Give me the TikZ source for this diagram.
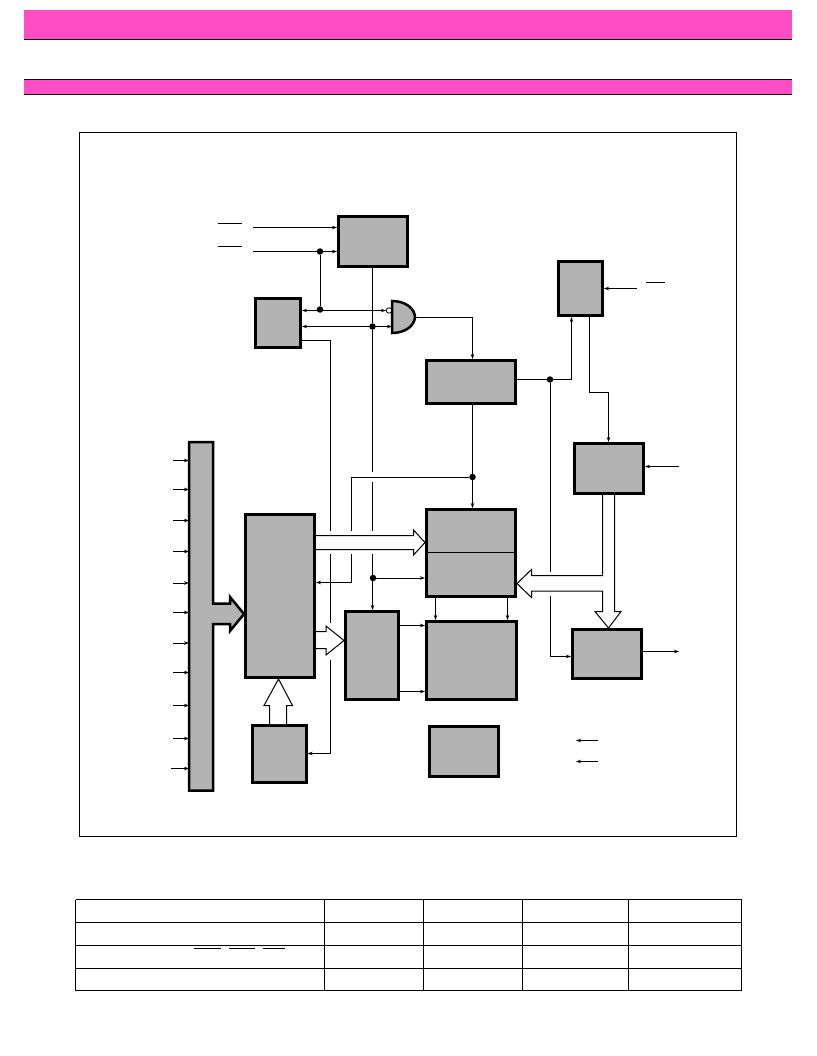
\documentclass[tikz,border=0pt]{standalone}
\usetikzlibrary{arrows.meta}
\definecolor{banner}{HTML}{FF4DC4}
\definecolor{blockgray}{HTML}{B3B3B3}
\tikzset{
    block/.style={rectangle, draw, fill=blockgray, line width=3pt, inner sep=0pt},
    jdot/.style={circle, fill=black, inner sep=0pt, minimum size=6.5pt},
    wire/.style={line width=1pt, line join=miter},
    sig/.style={wire, -{Stealth[length=5pt, width=3.5pt]}},
    bisig/.style={wire, {Stealth[length=5pt, width=3.5pt]}-{Stealth[length=5pt, width=3.5pt]}},
    hollow/.style={line width=1pt, fill=white, miter limit=10},
    overbar/.style={line width=1pt}
}
\begin{document}
\begin{tikzpicture}[x=1pt, y=-1pt]
    \useasboundingbox (0, 0) rectangle (816, 1056);

    \fill[banner] (24, 10) rectangle (792, 39);
    \fill[banner] (24, 79) rectangle (792, 94);
    \draw[line width=1.2pt] (24, 39.5) -- (792, 39.5);
    \draw[line width=1.2pt] (24, 79.5) -- (792, 79.5);
    \draw[line width=1.2pt] (24, 94.5) -- (792, 94.5);
    \draw[line width=0.8pt] (79.5, 132.5) rectangle (736.5, 836.5);

    \node[block, minimum width=69pt, minimum height=50pt] (rasclk) at (373, 241.5) {};
    \node[block, minimum width=45pt, minimum height=49pt] (refctl) at (278, 323) {};
    \node[block, minimum width=89pt, minimum height=43pt] (casclk) at (471, 382) {};
    \node[block, minimum width=69pt, minimum height=163pt] (addrbuf) at (280, 596) {};
    \node[block, minimum width=53pt, minimum height=88pt] (rowdec) at (372, 655.5) {};
    \node[block, minimum width=89pt, minimum height=87pt] (coldec) at (471, 553) {};
    \node[block, minimum width=90pt, minimum height=78pt] (cells) at (471.5, 660.5) {};
    \node[block, minimum width=54pt, minimum height=57pt] (refcnt) at (279, 754) {};
    \node[block, minimum width=69pt, minimum height=50pt] (bias) at (464, 751.5) {};
    \node[block, minimum width=44pt, minimum height=54pt] (wclk) at (580.5, 288.5) {};
    \node[block, minimum width=69pt, minimum height=50pt] (inbuf) at (609, 468.5) {};
    \node[block, minimum width=69pt, minimum height=49pt] (outbuf) at (607, 654) {};

    \coordinate (busnw) at (189, 442);
    \coordinate (busne) at (213, 442);
    \coordinate (busse) at (213, 790.5);
    \coordinate (bussw) at (189, 790.5);
    \draw[fill=blockgray, line width=2.5pt, miter limit=10] (busnw) -- (busne) -- (213, 603.5) -- (230, 603.5) -- (230, 597)
        -- (addrbuf.west |- 0, 614) -- (230, 631) -- (230, 624) -- (213, 624) -- (busse) -- (bussw) -- cycle;

    \foreach \n/\y in {a/460.5, b/489.5, c/520.5, d/551.5, e/583, f/612.5, g/643, h/672.5, i/705.5, j/738.5} {
        \coordinate (in\n) at (173, \y);
        \draw[sig] (in\n) -- (in\n -| busnw);
    }
    \coordinate (ink) at (171, 768.5);
    \draw[sig] (ink) -- (ink -| busnw);

    \draw[line width=0.8pt] (coldec.west |- 0, 552.5) -- (coldec.east |- 0, 552.5);

    \coordinate (gatea) at (392, 310.5);
    \coordinate (gateb) at (392, 326.5);
    \coordinate (gatey) at (415, 317);
    \draw[fill=blockgray, line width=2.5pt] (392, 301) .. controls (405, 301) and (414.5, 308) .. (gatey)
        .. controls (414.5, 326) and (405, 333) .. (392, 333) -- cycle;
    \node[circle, draw, fill=white, line width=0.8pt, inner sep=0pt, minimum size=5.5pt] (gatebub) at (389, 310.5) {};

    \node[jdot] (dotclk) at (320, 251.5) {};
    \node[jdot] (dotoe) at (320, 309.5) {};
    \node[jdot] (dotwe) at (372.5, 326.5) {};
    \node[jdot] (dotcas) at (472.5, 477) {};
    \node[jdot] (dotrow) at (373, 578) {};
    \node[jdot] (dotout) at (550, 379.5) {};

    \coordinate (inras) at (253, 227.5);
    \coordinate (incas) at (253, 251.5);
    \draw[sig] (inras) -- (inras -| rasclk.west);
    \draw[wire] (incas) -- (dotclk);
    \draw[sig] (dotclk) -- (dotclk -| rasclk.west);
    \draw[wire] (dotclk) -- (dotoe);
    \draw[bisig] (refctl.east |- 0, 310.5) -- (gatebub.west);
    \draw[bisig] (refctl.east |- 0, 326.5) -- (gateb);

    \draw[wire] (372.5, 0 |- rasclk.south) -- (dotwe);
    \draw[wire] (dotwe) -- (372.5, 472);
    \draw[wire] (372.5, 482) -- (372.5, 531);
    \draw[sig] (372.5, 554) -- (372.5, 0 |- rowdec.north);
    \draw[sig] (dotrow) -- (dotrow -| coldec.west);

    \draw[sig] (gatey) -| (472.5, 0 |- casclk.north);
    \draw[wire] (472.5, 0 |- casclk.south) -- (dotcas);
    \draw[sig] (dotcas) -- (472.5, 0 |- coldec.north);
    \draw[wire] (dotcas) -| (351.5, 531);
    \draw[sig] (351.5, 554) |- (addrbuf.east |- 0, 582.5);

    \draw[wire] (refctl.east |- 0, 340.5) -| (330.5, 531);
    \draw[wire] (330.5, 554) -- (330.5, 622.5);
    \draw[sig] (330.5, 660) |- (refcnt.east |- 0, 753.5);

    \draw[wire] (casclk.east |- dotout) -- (dotout);
    \draw[sig] (dotout) -| (571.5, 0 |- wclk.south);
    \draw[wire] (dotout) -- (550, 571.5);
    \draw[sig] (550, 596) |- (outbuf.west |- 0, 656.5);

    \coordinate (inwe) at (637, 288.5);
    \draw[sig] (inwe) -- (inwe -| wclk.east);
    \coordinate (jogwe) at (608.5, 392.5);
    \draw[wire] (589.5, 0 |- wclk.south) |- (jogwe);
    \draw[sig] (jogwe) -- (608.5, 0 |- inbuf.north);
    \coordinate (indin) at (679, 466.5);
    \draw[sig] (indin) -- (indin -| inbuf.east);
    \coordinate (outdo) at (679, 651.5);
    \draw[sig] (outbuf.east |- outdo) -- (outdo);

    \foreach \n/\y in {vcc/740.5, vss/761.5} {
        \coordinate (lg\n) at (598, \y);
        \draw[sig] (lg\n) -- (576, \y);
    }

    \foreach \v in {625.5, 691.5} {
        \draw[sig] (rowdec.east |- 0, \v) -- (cells.west |- 0, \v);
    }
    \foreach \x in {435.5, 507.5} {
        \draw[sig] (\x, 0 |- coldec.south) -- (\x, 0 |- cells.north);
    }

    \draw[hollow] (addrbuf.east |- 0, 535.5) -- (413.5, 535.5) -- (413.5, 530) -- (coldec.west |- 0, 542.5)
        -- (413.5, 555) -- (413.5, 549.5) -- (addrbuf.east |- 0, 549.5);
    \draw[hollow] (addrbuf.east |- 0, 631.5) -- (326, 631.5) -- (326, 626) -- (rowdec.west |- 0, 640.5)
        -- (326, 655) -- (326, 648.5) -- (addrbuf.east |- 0, 648.5);
    \draw[hollow] (269.5, 0 |- refcnt.north) -- (269.5, 705.5) -- (264, 705.5) -- (278.5, 0 |- addrbuf.south)
        -- (292.5, 705.5) -- (286.5, 705.5) -- (286.5, 0 |- refcnt.north);
    \draw[hollow] (602.5, 0 |- inbuf.south) -- (602.5, 575.5) -- (531.5, 575.5) -- (531.5, 569.5) -- (coldec.east |- 0, 583.5)
        -- (531.5, 597.5) -- (531.5, 591) -- (602.5, 591) -- (602.5, 611.5) -- (595, 611.5) -- (608.5, 0 |- outbuf.north)
        -- (621, 611.5) -- (614.5, 611.5) -- (614.5, 0 |- inbuf.south);

    \draw[overbar] (217.5, 223.5) -- (242, 223.5);
    \draw[overbar] (217.5, 246.5) -- (242, 246.5);
    \draw[overbar] (645.5, 282.5) -- (665, 282.5);

    \foreach \y in {899.5, 922.5, 945.5, 968.5, 990.5} {
        \draw[line width=0.8pt] (75.5, \y) -- (741.5, \y);
    }
    \foreach \x in {75.5, 324.5, 423.5, 522.5, 628.5, 741.5} {
        \draw[line width=0.8pt] (\x, 899.5) -- (\x, 990.5);
    }
    \draw[overbar] (194, 948.5) -- (221, 948.5);
    \draw[overbar] (229, 948.5) -- (255, 948.5);
    \draw[overbar] (263, 948.5) -- (285, 948.5);
\end{tikzpicture}
\end{document}
